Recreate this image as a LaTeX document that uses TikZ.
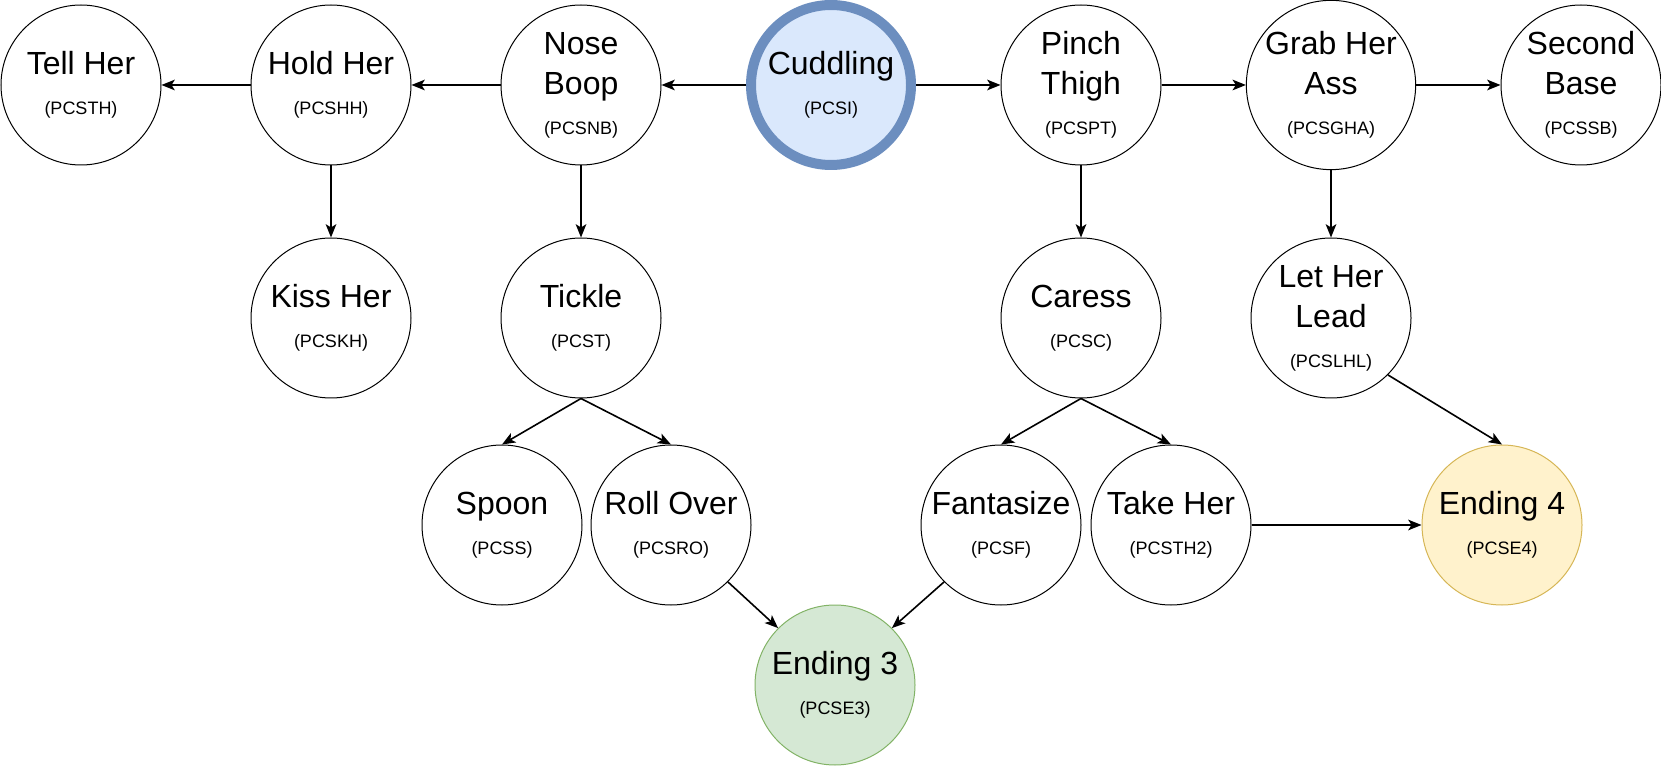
\documentclass[tikz,border=0pt]{standalone}
\usepackage{fontspec}
\setmainfont{Liberation Sans}
\usetikzlibrary{arrows.meta,calc}
\definecolor{StartFill}{HTML}{DAE8FC}
\definecolor{StartLine}{HTML}{6C8EBF}
\definecolor{EndThreeFill}{HTML}{D5E8D4}
\definecolor{EndThreeLine}{HTML}{82B366}
\definecolor{EndFourFill}{HTML}{FFF2CC}
\definecolor{EndFourLine}{HTML}{D6B656}
\newcommand{\Code}[1]{{\fontsize{13.5}{30}\selectfont #1}}

\begin{document}
\begin{tikzpicture}[x=0.75pt,y=-0.75pt,
  stage/.style={circle,draw,line width=0.75pt,minimum size=120pt,inner sep=0pt,
    align=center,font=\fontsize{24}{30}\selectfont},
  link/.style={-{Stealth[length=10pt,width=8pt,inset=2.5pt]},line width=1.2pt}]
\useasboundingbox (0,0) rectangle (1661,766);

\node[stage,line width=7.5pt,draw=StartLine,fill=StartFill] (PCSI) at (831,85) {Cuddling\\\Code{(PCSI)}};
\node[stage] (PCSNB) at (581,85) {Nose\\Boop\\\Code{(PCSNB)}};
\node[stage] (PCSHH) at (331,85) {Hold Her\\\Code{(PCSHH)}};
\node[stage] (PCSTH) at (81,85) {Tell Her\\\Code{(PCSTH)}};
\node[stage] (PCSPT) at (1081,85) {Pinch\\Thigh\\\Code{(PCSPT)}};
\node[stage] (PCSGHA) at (1331,85) {Grab Her\\Ass\\\Code{(PCSGHA)}};
\node[stage] (PCSSB) at (1581,85) {Second\\Base\\\Code{(PCSSB)}};

\node[stage] (PCSKH) at (331,318) {Kiss Her\\\Code{(PCSKH)}};
\node[stage] (PCST) at (581,318) {Tickle\\\Code{(PCST)}};
\node[stage] (PCSC) at (1081,318) {Caress\\\Code{(PCSC)}};
\node[stage] (PCSLHL) at (1331,318) {Let Her\\Lead\\\Code{(PCSLHL)}};

\node[stage] (PCSS) at (502,525) {Spoon\\\Code{(PCSS)}};
\node[stage] (PCSRO) at (671,525) {Roll Over\\\Code{(PCSRO)}};
\node[stage] (PCSF) at (1001,525) {Fantasize\\\Code{(PCSF)}};
\node[stage] (PCSTH2) at (1171,525) {Take Her\\\Code{(PCSTH2)}};
\node[stage,draw=EndFourLine,fill=EndFourFill] (PCSE4) at (1502,525) {Ending 4\\\Code{(PCSE4)}};
\node[stage,draw=EndThreeLine,fill=EndThreeFill] (PCSE3) at (835,685) {Ending 3\\\Code{(PCSE3)}};

\draw[link] (PCSI) -- (PCSNB);
\draw[link] (PCSNB) -- (PCSHH);
\draw[link] (PCSHH) -- (PCSTH);
\draw[link] (PCSI) -- (PCSPT);
\draw[link] (PCSPT) -- (PCSGHA);
\draw[link] (PCSGHA) -- (PCSSB);

\draw[link] (PCSHH) -- (PCSKH);
\draw[link] (PCSNB) -- (PCST);
\draw[link] (PCSPT) -- (PCSC);
\draw[link] (PCSGHA) -- (PCSLHL);

\draw[link] (PCST.south) -- (PCSS.north);
\draw[link] (PCST.south) -- (PCSRO.north);
\draw[link] (PCSC.south) -- (PCSF.north);
\draw[link] (PCSC.south) -- (PCSTH2.north);

\draw[link] (PCSRO.south east) -- (PCSE3.north west);
\draw[link] (PCSF.south west) -- (PCSE3.north east);
\draw[link] (PCSLHL.south east) -- (PCSE4.north);
\draw[link] (PCSTH2) -- (PCSE4);

\end{tikzpicture}
\end{document}
